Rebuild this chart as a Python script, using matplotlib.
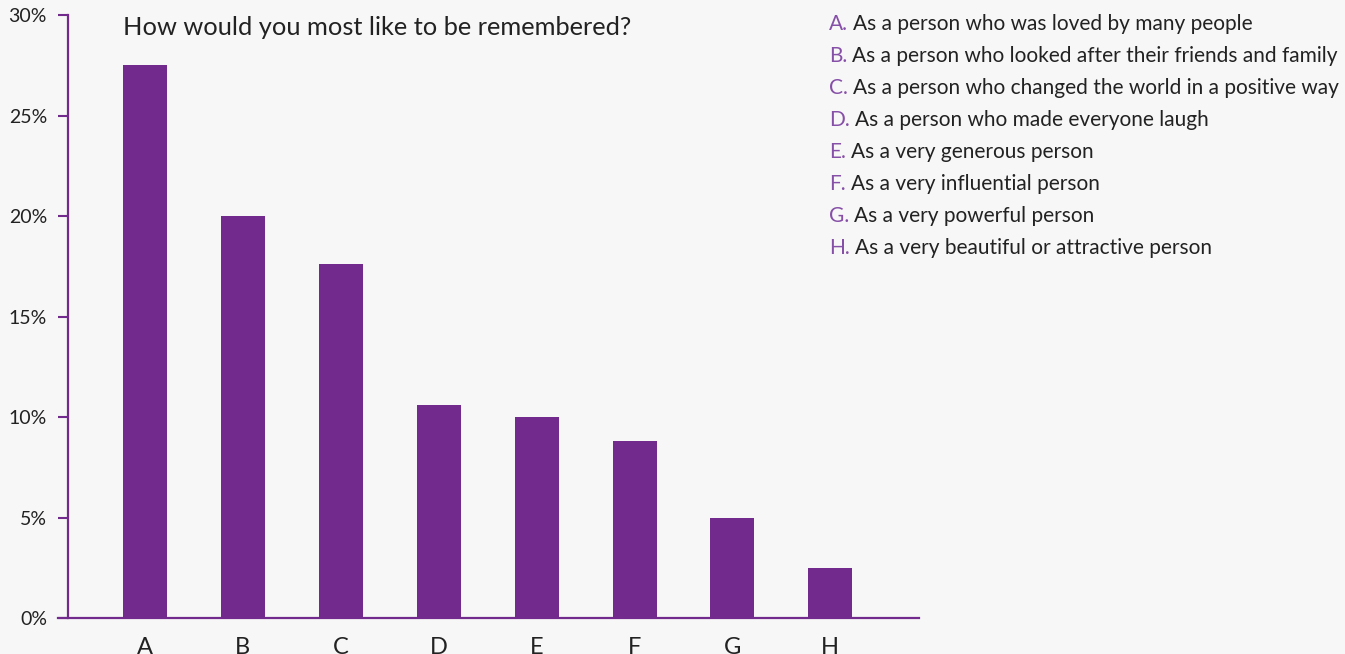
import numpy as np
import matplotlib
matplotlib.use('Agg')
import matplotlib.pyplot as plt

plt.rcParams['font.family'] = ['Lato', 'DejaVu Sans']

# data
letters = ['A', 'B', 'C', 'D', 'E', 'F', 'G', 'H']
shares = [27.5, 20.0, 17.6, 10.6, 10.0, 8.8, 5.0, 2.5]
answers = ['As a person who was loved by many people',
           'As a person who looked after their friends and family',
           'As a person who changed the world in a positive way',
           'As a person who made everyone laugh',
           'As a very generous person',
           'As a very influential person',
           'As a very powerful person',
           'As a very beautiful or attractive person']
yticks = [0, 5, 10, 15, 20, 25, 30]
title = 'How would you most like to be remembered?'

purple = '#722a8d'
light_purple = '#8750a8'
ink = '#222222'
bg = '#f7f7f7'

fig = plt.figure(figsize=(13.45, 6.54), dpi=100, facecolor=bg)
ax = fig.add_axes([0.0506, 0.055, 0.633, 0.922])
ax.set_facecolor('none')

x = np.arange(len(letters))
ax.bar(x, shares, width=0.45, color=purple, zorder=2)

ax.set_ylim(0, 30)
ax.set_xlim(-0.786, 7.91)
ax.set_yticks(yticks)
ax.set_yticklabels(['%d%%' % t for t in yticks], fontsize=14, color=ink)
ax.set_xticks(x)
ax.set_xticklabels(letters, fontsize=17, color=ink)
ax.tick_params(axis='y', direction='out', length=7.2, width=1.5, color=purple, pad=8)
ax.tick_params(axis='x', length=0, pad=14)

for s in ['top', 'right']:
    ax.spines[s].set_visible(False)
for s in ['left', 'bottom']:
    ax.spines[s].set_color(purple)
    ax.spines[s].set_linewidth(1.6)
ax.spines['bottom'].set_bounds(-0.89, 7.91)

# title sits a little below the top of the axis
ax.text(-0.22, 29.4, title, fontsize=18.3, color=ink, va='center', ha='left')

# legend block on the right
y0 = 0.963
step = 32 / 654
for i, (l, a) in enumerate(zip(letters, answers)):
    t = fig.text(0.6165, y0 - i * step, l + '.', fontsize=15.0, color=light_purple,
                 va='center', ha='left')
    ax.annotate(a, xy=(1, 0.5), xycoords=t, xytext=(3.5, 0),
                textcoords='offset points', fontsize=15.0, color=ink,
                va='center', ha='left', annotation_clip=False)

fig.savefig('out.png', dpi=100, facecolor=bg)
